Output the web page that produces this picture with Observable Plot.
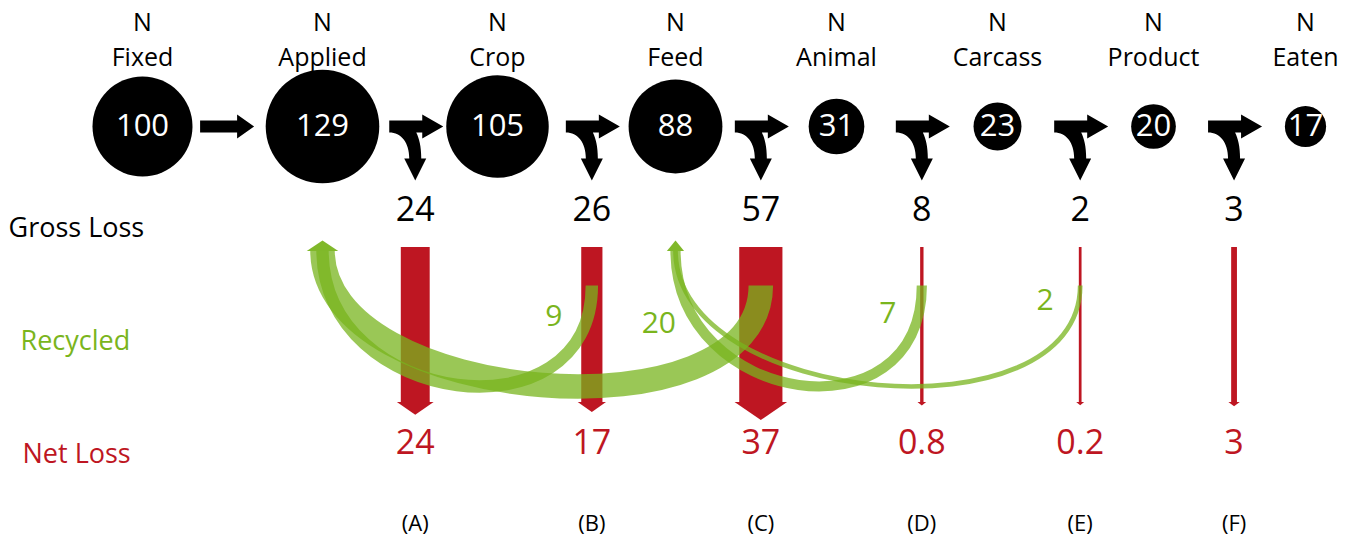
<!DOCTYPE html>
<html><head><meta charset="utf-8">
<script src="https://cdn.jsdelivr.net/npm/d3@7"></script>
<script src="https://cdn.jsdelivr.net/npm/@observablehq/plot@0.6"></script>
<style>body{margin:0;background:#fff;}</style>
</head><body><div id="chart"></div>
<script>
// ---------- data ----------
const stageNames = ["Fixed", "Applied", "Crop", "Feed", "Animal", "Carcass", "Product", "Eaten"];
const stageValues = [100, 129, 105, 88, 31, 23, 20, 17];
const lossLetters = ["(A)", "(B)", "(C)", "(D)", "(E)", "(F)"];
const lossAfter = ["Applied", "Crop", "Feed", "Animal", "Carcass", "Product"];
const grossLoss = [24, 26, 57, 8, 2, 3];
const netLoss = [24, 17, 37, 0.8, 0.2, 3];
const recycledValues = [9, 20, 7, 2];
const recycledFrom = ["(B)", "(C)", "(D)", "(E)"];
const recycledTo = ["Applied", "Applied", "Feed", "Feed"];
const rowLabels = ["Gross Loss", "Recycled", "Net Loss"];

// ---------- layout (positions / styles) ----------
const nodeColumns = [142, 322, 497, 675, 836, 997, 1153, 1305];
const L = {
  headerY: 22, nameY: 57, nodeY: 126, grossY: 210, barTop: 247, barBottom: 402,
  flowStartY: 285, flowEndY: 250, flowDepth: 156, netY: 443, letterY: 523,
  lossOffset: 0.53, firstArrowPos: 0.47,
  rowLabelY: [228, 341, 454], rowLabelDx: [8, 20, 22],
  flowLabelDx: [-38, -102, -34, -35], flowLabelY: [316, 323, 313, 300]
};
const RED = "#be1622", GREEN = "#7ab51d", BAND = "#78b41e";
const FONT = "Open Sans";
const widthOf = v => 1.1 * v + 2.5;

const stages = stageNames.map((name, i) => ({name, value: stageValues[i], i}));
const losses = lossLetters.map((letter, j) => ({
  letter, gross: grossLoss[j], net: netLoss[j],
  pos: stageNames.indexOf(lossAfter[j]) + L.lossOffset
}));
const flows = recycledValues.map((value, k) => ({
  value, label: String(value),
  from: losses.find(l => l.letter === recycledFrom[k]).pos,
  to: stageNames.indexOf(recycledTo[k]),
  dx: L.flowLabelDx[k], ly: L.flowLabelY[k]
}));
const targets = Array.from(d3.group(flows, d => d.to), ([to, fs]) => ({to, w: d3.max(fs, f => widthOf(f.value)) + 7}));

// ---------- shapes ----------
const shape = fn => ({draw: ctx => fn(ctx)});
const straightArrow = shape(c => {
  c.moveTo(-27, -6); c.lineTo(10, -6); c.lineTo(10, -12); c.lineTo(27, 0);
  c.lineTo(10, 12); c.lineTo(10, 6); c.lineTo(-27, 6); c.closePath();
});
const splitArrow = shape(c => {
  c.moveTo(-26, -6); c.lineTo(7, -6); c.lineTo(7, -12); c.lineTo(28, 0);
  c.lineTo(7, 12); c.lineTo(7, 6); c.lineTo(1, 6);
  c.bezierCurveTo(4, 12, 6, 20, 6, 32);
  c.lineTo(11, 32); c.lineTo(0, 54); c.lineTo(-11, 32); c.lineTo(-6, 32);
  c.bezierCurveTo(-6, 16, -14, 6, -26, 6); c.closePath();
});
const headDown = w => shape(c => { c.moveTo(-w / 2, -0.5); c.lineTo(w / 2, -0.5); c.lineTo(0, w / 3); c.closePath(); });
const headUp = w => shape(c => { c.moveTo(-w / 2, 0.5); c.lineTo(w / 2, 0.5); c.lineTo(0, -10); c.closePath(); });

// U-shaped recycling curve between two points
function uCurve(context) {
  let pts = [];
  return {
    lineStart() { pts = []; },
    lineEnd() {
      const [[x1, y1], [x2, y2]] = pts;
      context.moveTo(x1, y1);
      context.bezierCurveTo(x1, y1 + L.flowDepth, x2, y2 + L.flowDepth, x2, y2);
    },
    point(x, y) { pts.push([x, y]); },
    areaStart() {}, areaEnd() {}
  };
}

const chart = Plot.plot({
  width: 1351, height: 540, margin: 0,
  x: {type: "linear", domain: d3.range(stageNames.length), range: nodeColumns, axis: null},
  y: {domain: [0, 540], range: [0, 540], axis: null},
  r: {type: "sqrt", domain: [0, 100], range: [0, 50]},
  style: {fontFamily: FONT, background: "white", overflow: "visible"},
  marks: [
    // stage headers
    Plot.text(stages, {x: "i", y: L.headerY, text: () => "N", fontSize: 25, fill: "black"}),
    Plot.text(stages, {x: "i", y: L.nameY, text: "name", fontSize: 25, fill: "black"}),
    // nodes
    Plot.dot(stages, {x: "i", y: L.nodeY, r: "value", fill: "black", stroke: "none"}),
    Plot.text(stages, {x: "i", y: L.nodeY, text: d => String(d.value), fontSize: 31, fill: "white"}),
    // flow arrows
    Plot.vector([L.firstArrowPos], {x: d => d, y: L.nodeY, shape: straightArrow, anchor: "start", length: 1, fill: "black", stroke: "none"}),
    Plot.vector(losses, {x: "pos", y: L.nodeY, shape: splitArrow, anchor: "start", length: 1, fill: "black", stroke: "none"}),
    // gross loss labels
    Plot.text(losses, {x: "pos", y: L.grossY, text: d => String(d.gross), fontSize: 34, fill: "black"}),
    // net loss arrows
    Plot.ruleX(losses, {x: "pos", y1: L.barTop, y2: L.barBottom, stroke: RED, strokeWidth: d => widthOf(d.net)}),
    ...losses.map(d => Plot.vector([d], {x: "pos", y: L.barBottom, shape: headDown(1.1 * widthOf(d.net) + 5), anchor: "start", length: 1, fill: RED, stroke: "none"})),
    // recycled flows
    Plot.link(flows, {x1: "from", y1: L.flowStartY, x2: "to", y2: L.flowEndY, curve: uCurve,
      stroke: BAND, strokeOpacity: 0.75, strokeWidth: d => widthOf(d.value), strokeLinecap: "butt"}),
    ...targets.map(t => Plot.vector([t], {x: "to", y: L.flowEndY, shape: headUp(t.w), anchor: "start", length: 1, fill: "#80b82a", stroke: "none"})),
    ...flows.map(f => Plot.text([f], {x: "from", y: "ly", dx: f.dx, text: "label", fontSize: 30, fill: GREEN})),
    // net loss labels
    Plot.text(losses, {x: "pos", y: L.netY, text: d => String(d.net), fontSize: 34, fill: RED}),
    Plot.text(losses, {x: "pos", y: L.letterY, text: "letter", fontSize: 22, fill: "black"}),
    // row labels
    ...rowLabels.map((lab, k) => Plot.text([lab], {frameAnchor: "left", y: L.rowLabelY[k], dx: L.rowLabelDx[k], text: d => d,
      textAnchor: "start", fontSize: 27, fill: [ "black", GREEN, RED ][k]}))
  ]
});
document.getElementById("chart").appendChild(chart);
</script></body></html>
